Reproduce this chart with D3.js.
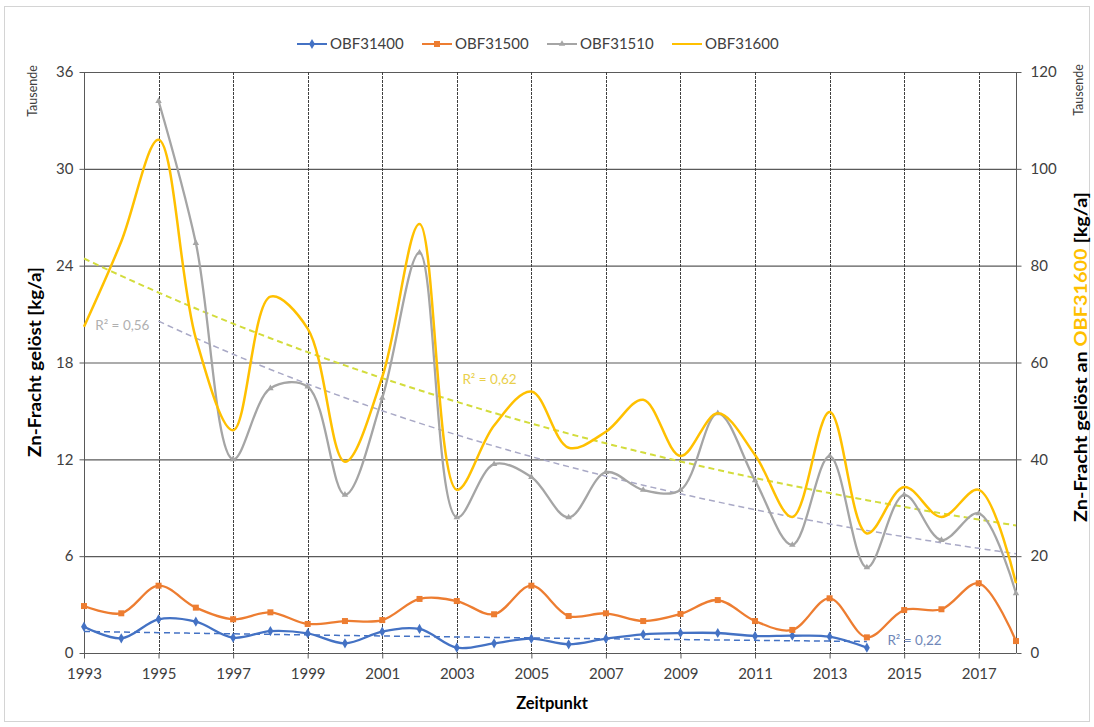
<!DOCTYPE html>
<html>
<head>
<meta charset="utf-8">
<script src="https://cdnjs.cloudflare.com/ajax/libs/d3/7.8.5/d3.min.js"></script>
<style>
  body { margin: 0; background: #fff; }
  svg text { font-family: Lato, "Open Sans", sans-serif; }
</style>
</head>
<body>
<script>
// Zn-Fracht chart, years on x, two y axes (left: OBF31400/500/510, right: OBF31600)
var years = d3.range(1993, 2019);
var oddYears = d3.range(1993, 2018, 2);
var leftTicks = [0, 6, 12, 18, 24, 30, 36];
var rightTicks = [0, 20, 40, 60, 80, 100, 120];

// values in Tausende kg/a
var obf31400 = [1.63, 0.91, 2.09, 1.94, 0.95, 1.36, 1.22, 0.60, 1.32, 1.49, 0.33, 0.60, 0.89,
                0.54, 0.89, 1.16, 1.24, 1.24, 1.05, 1.07, 1.01, 0.33];           // 1993-2014
var obf31500 = [2.91, 2.46, 4.17, 2.81, 2.09, 2.52, 1.80, 1.98, 2.04, 3.35, 3.22, 2.40, 4.17,
                2.29, 2.46, 1.98, 2.42, 3.28, 1.98, 1.43, 3.39, 0.97, 2.66, 2.71, 4.32, 0.74]; // 1993-2018
var obf31510 = [34.2, 25.4, 12.0, 16.4, 16.5, 9.8, 15.8, 24.8, 8.4, 11.7, 10.9, 8.4, 11.2,
                10.1, 10.1, 14.85, 10.7, 6.7, 12.2, 5.3, 9.8, 7.0, 8.65, 3.7];    // 1995-2018
var obf31600 = [67.4, 85, 106, 65, 46, 73.6, 67, 39.5, 57, 88.6, 33.7, 47, 54,
                42.4, 45.7, 52.3, 40.7, 49.5, 40.9, 28.1, 49.8, 24.7, 34.3, 28.1, 33.7, 14.4]; // 1993-2018 (right axis)

var seriesNames = ["OBF31400", "OBF31500", "OBF31510", "OBF31600"];
var r2Labels = ["R² = 0,22", "R² = 0,56", "R² = 0,62"];

window.onload = function()
{
  var W = 1094, H = 727;
  var left = 84, right = 1016, top = 72, bottom = 653;

  var svg = d3.select("body").append("svg")
      .attr("width", W)
      .attr("height", H);

  svg.append("rect")
      .attr("x", 4.5).attr("y", 6.5)
      .attr("width", 1085).attr("height", 715)
      .attr("fill", "#fff")
      .attr("stroke", "#d4d4d4");

  var x = d3.scaleLinear().domain([1993, 2018]).range([left, right]);
  var yL = d3.scaleLinear().domain([0, 36]).range([bottom, top]);
  var yR = d3.scaleLinear().domain([0, 120]).range([bottom, top]);

  // horizontal grid
  svg.append("g")
      .selectAll("line")
      .data(leftTicks.slice(1))
    .enter().append("line")
      .attr("x1", left).attr("x2", right)
      .attr("y1", function(d) { return yL(d) + 0.5; })
      .attr("y2", function(d) { return yL(d) + 0.5; })
      .attr("stroke", "#5a5a5a")
      .attr("stroke-width", 1.2);

  // vertical grid (dotted)
  svg.append("g")
      .selectAll("line")
      .data(oddYears.slice(1))
    .enter().append("line")
      .attr("x1", function(d) { return Math.round(x(d)) + 0.5; })
      .attr("x2", function(d) { return Math.round(x(d)) + 0.5; })
      .attr("y1", top).attr("y2", bottom)
      .attr("stroke", "#404040")
      .attr("stroke-dasharray", "3,1")
      .attr("stroke-width", 1);

  // axes
  var xAxis = d3.axisBottom(x).tickValues(oddYears).tickFormat(d3.format("d")).tickSize(5).tickPadding(10);
  var gx = svg.append("g")
      .attr("transform", "translate(0," + (bottom + 0.5) + ")")
      .call(xAxis);
  gx.select(".domain").attr("stroke", "#595959").attr("d", "M" + left + ",0H" + right);

  var gl = svg.append("g")
      .attr("transform", "translate(" + (left + 0.5) + ",0)")
      .call(d3.axisLeft(yL).tickValues(leftTicks).tickSize(5).tickPadding(6));
  gl.select(".domain").attr("stroke", "#595959").attr("d", "M0," + top + "V" + bottom);

  var gr = svg.append("g")
      .attr("transform", "translate(" + (right + 0.5) + ",0)")
      .call(d3.axisRight(yR).tickValues(rightTicks).tickSize(5).tickPadding(9));
  gr.select(".domain").attr("stroke", "#595959").attr("d", "M0," + top + "V" + bottom);

  svg.selectAll(".tick line").attr("stroke", "#595959");
  svg.selectAll(".tick text")
      .attr("fill", "#404040")
      .style("font-size", "15px")
      .style("font-family", "Lato, sans-serif");

  // axis titles
  svg.append("text")
      .attr("transform", "translate(41,362) rotate(-90)")
      .attr("text-anchor", "middle")
      .attr("textLength", 190)
      .attr("lengthAdjust", "spacingAndGlyphs")
      .style("font-size", "16.5px").style("font-weight", "bold")
      .attr("fill", "#000")
      .text("Zn-Fracht gelöst [kg/a]");
  svg.append("text")
      .attr("transform", "translate(37,91) rotate(-90)")
      .attr("text-anchor", "middle")
      .style("font-size", "12.5px")
      .attr("fill", "#404040")
      .text("Tausende");

  var rt = svg.append("text")
      .attr("transform", "translate(1087,357) rotate(-90)")
      .attr("text-anchor", "middle")
      .attr("textLength", 330)
      .attr("lengthAdjust", "spacingAndGlyphs")
      .style("font-size", "16.5px").style("font-weight", "bold")
      .attr("fill", "#000");
  rt.append("tspan").text("Zn-Fracht gelöst an ");
  rt.append("tspan").attr("fill", "#FFC000").text("OBF31600");
  rt.append("tspan").text(" [kg/a]");

  svg.append("text")
      .attr("transform", "translate(1083,90) rotate(-90)")
      .attr("text-anchor", "middle")
      .style("font-size", "12.5px")
      .attr("fill", "#404040")
      .text("Tausende");

  svg.append("text")
      .attr("x", 552).attr("y", 709)
      .attr("text-anchor", "middle")
      .style("font-size", "16.5px").style("font-weight", "bold")
      .text("Zeitpunkt");

  // series
  var series = [
    {name: seriesNames[0], vals: obf31400, start: 1993, y: yL, color: "#4472C4", marker: d3.symbolDiamond, msize: 30},
    {name: seriesNames[1], vals: obf31500, start: 1993, y: yL, color: "#ED7D31", marker: d3.symbolSquare, msize: 36},
    {name: seriesNames[2], vals: obf31510, start: 1995, y: yL, color: "#A5A5A5", marker: d3.symbolTriangle, msize: 18},
    {name: seriesNames[3], vals: obf31600, start: 1993, y: yR, color: "#FFC000", marker: null, msize: 0}
  ];
  series.forEach(function(s)
  {
    s.pts = s.vals.map(function(v, i) { return {year: s.start + i, v: v}; });
  });

  // exponential trend lines (least squares on ln y)
  function expFit(pts)
  {
    var n = pts.length, sx = 0, sy = 0, sxx = 0, sxy = 0;
    pts.forEach(function(p)
    {
      var t = p.year - 1993, ly = Math.log(p.v);
      sx += t; sy += ly; sxx += t * t; sxy += t * ly;
    });
    var b = (n * sxy - sx * sy) / (n * sxx - sx * sx);
    var a = (sy - b * sx) / n;
    return function(year) { return Math.exp(a + b * (year - 1993)); };
  }

  var trends = [
    {s: series[0], color: "#4472C4", width: 1.5, label: r2Labels[0], lx: 2014.55, lv: 0.5, lcol: "#6F87B8"},
    {s: series[2], color: "#A9A9C6", width: 1.5, label: r2Labels[1], lx: 1993.3, lv: 20.0, lcol: "#B0B0B0"},
    {s: series[3], color: "#D3DC3C", width: 2, label: r2Labels[2], lx: 2003.15, lv: 55.5, lcol: "#E9CF4A"}
  ];
  trends.forEach(function(t)
  {
    var f = expFit(t.s.pts);
    var y0 = t.s.pts[0].year, y1 = t.s.pts[t.s.pts.length - 1].year;
    var tp = d3.range(y0, y1 + 0.001, 0.25).map(function(yr) { return {year: yr, v: f(yr)}; });
    svg.append("path")
        .datum(tp)
        .attr("fill", "none")
        .attr("stroke", t.color)
        .attr("stroke-width", t.width)
        .attr("stroke-dasharray", "6,4")
        .attr("d", d3.line()
            .x(function(d) { return x(d.year); })
            .y(function(d) { return t.s.y(d.v); }));
    svg.append("text")
        .attr("x", x(t.lx))
        .attr("y", t.s.y(t.lv))
        .attr("fill", t.lcol)
        .style("font-size", "13.5px")
        .text(t.label);
  });

  series.forEach(function(s)
  {
    svg.append("path")
        .datum(s.pts)
        .attr("fill", "none")
        .attr("stroke", s.color)
        .attr("stroke-width", s.name === "OBF31600" ? 2.5 : 2.3)
        .attr("d", d3.line()
            .curve(d3.curveCatmullRom.alpha(0.5))
            .x(function(d) { return x(d.year); })
            .y(function(d) { return s.y(d.v); }));
    if (s.marker)
    {
      svg.append("g")
          .selectAll("path")
          .data(s.pts)
        .enter().append("path")
          .attr("transform", function(d) { return "translate(" + x(d.year) + "," + s.y(d.v) + ")"; })
          .attr("d", d3.symbol().type(s.marker).size(s.msize))
          .attr("fill", s.color);
    }
  });

  // legend
  var legend = svg.selectAll(".legend")
      .data(series)
    .enter().append("g")
      .attr("class", "legend")
      .attr("transform", function(d, i) { return "translate(" + (297 + i * 125) + ",44)"; });

  legend.append("line")
      .attr("x1", 0).attr("x2", 30)
      .attr("stroke", function(d) { return d.color; })
      .attr("stroke-width", 2);
  legend.filter(function(d) { return d.marker; })
    .append("path")
      .attr("transform", "translate(15,0)")
      .attr("d", function(d) { return d3.symbol().type(d.marker).size(d.msize)(); })
      .attr("fill", function(d) { return d.color; });
  legend.append("text")
      .attr("x", 33)
      .attr("y", 0)
      .attr("dy", ".35em")
      .attr("fill", "#404040")
      .style("font-size", "15px")
      .text(function(d) { return d.name; });
};
</script>
</body>
</html>
